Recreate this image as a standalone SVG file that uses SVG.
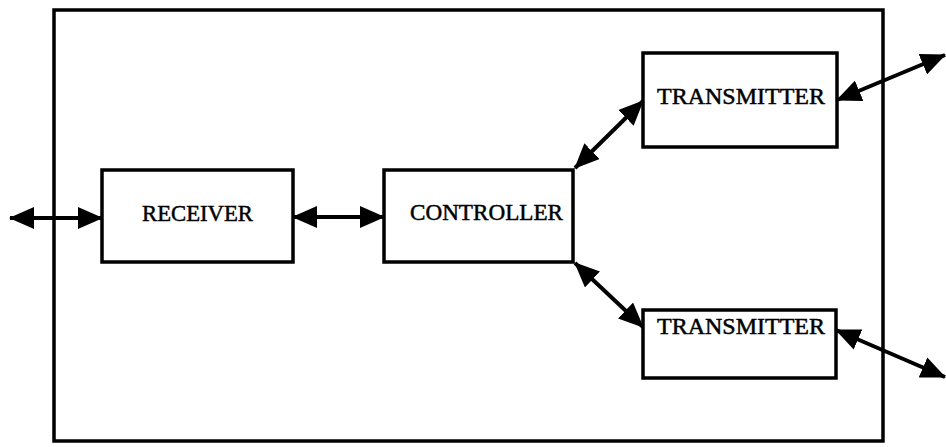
<svg xmlns="http://www.w3.org/2000/svg" width="946" height="447" viewBox="0 0 946 447">
  <style>
    .box { fill: #fff; stroke: #000; stroke-width: 3.5; }
    .frame { fill: none; stroke: #000; stroke-width: 3.5; }
    .label { font-family: "Liberation Serif", "Times New Roman", serif; font-size: 24px; fill: #000; stroke: #000; stroke-width: 0.5; }
    .link { stroke: #000; stroke-width: 4; fill: none; marker-start: url(#head); marker-end: url(#head); }
  </style>
  <defs>
    <marker id="head" viewBox="0 0 25 22" refX="24" refY="11" markerWidth="25" markerHeight="22" markerUnits="userSpaceOnUse" orient="auto-start-reverse">
      <path d="M0,0 L25,11 L0,22 z" fill="#000"/>
    </marker>
  </defs>
  <rect width="946" height="447" fill="#fff"/>

  <!-- enclosing system boundary -->
  <rect id="system" class="frame" x="54" y="10" width="829" height="431"/>

  <g id="receiver">
    <rect class="box" x="102" y="170" width="191" height="92"/>
    <text class="label" x="142" y="221" textLength="111" lengthAdjust="spacingAndGlyphs">RECEIVER</text>
  </g>

  <g id="controller">
    <rect class="box" x="384" y="170" width="189" height="92"/>
    <text class="label" x="410" y="220" textLength="153" lengthAdjust="spacingAndGlyphs">CONTROLLER</text>
  </g>

  <g id="transmitter-upper">
    <rect class="box" x="643" y="53" width="194" height="94"/>
    <text class="label" x="657" y="104" textLength="168" lengthAdjust="spacingAndGlyphs">TRANSMITTER</text>
  </g>

  <g id="transmitter-lower">
    <rect class="box" x="643" y="310" width="193" height="68"/>
    <text class="label" x="657" y="334" textLength="168" lengthAdjust="spacingAndGlyphs">TRANSMITTER</text>
  </g>

  <g id="connectors">
    <line class="link" x1="10" y1="218" x2="102" y2="218"/>
    <line class="link" x1="293" y1="217" x2="384" y2="217"/>
    <line class="link" x1="575" y1="168" x2="643" y2="101"/>
    <line class="link" x1="575" y1="263" x2="643" y2="327"/>
    <line class="link" x1="837" y1="100" x2="945" y2="55"/>
    <line class="link" x1="836" y1="330" x2="945" y2="377"/>
  </g>
</svg>
